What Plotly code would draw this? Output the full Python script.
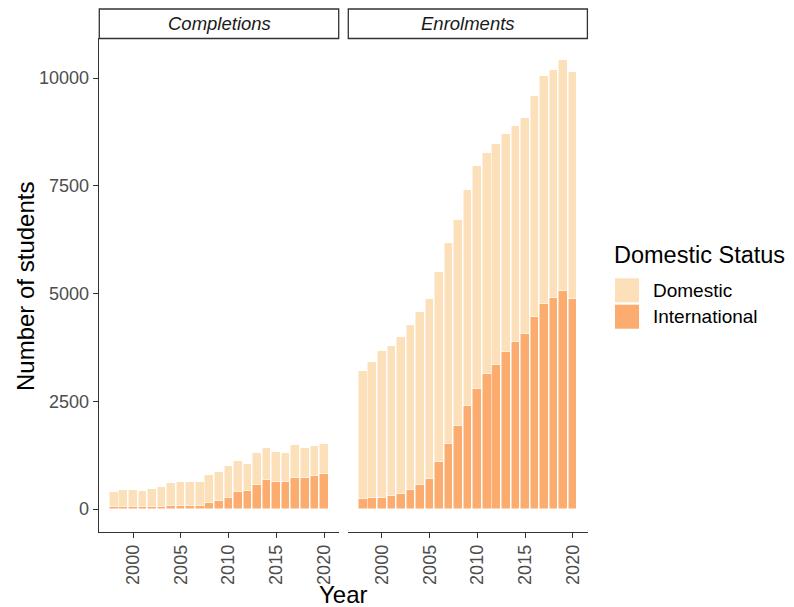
import plotly.graph_objects as go

# ---------------- data ----------------
years = list(range(1998, 2021))

completions_international = [45, 45, 45, 45, 45, 45, 65, 65, 65, 80, 131, 193, 263,
                             395, 426, 557, 666, 635, 635, 712, 712, 766, 820]
completions_domestic = [342, 396, 396, 373, 419, 474, 539, 562, 562, 547, 658, 674, 735,
                        712, 627, 743, 758, 689, 658, 766, 712, 689, 689]

enrolments_international = [232, 262, 262, 309, 341, 441, 550, 690, 1084, 1509, 1934, 2385,
                            2786, 3128, 3344, 3638, 3878, 4064, 4458, 4753, 4906, 5062, 4883]
enrolments_domestic = [2972, 3159, 3399, 3483, 3660, 3831, 4017, 4186, 4412, 4675, 4784, 5022,
                       5178, 5131, 5124, 5070, 5015, 5015, 5132, 5285, 5288, 5348, 5264]

panel_titles = ["Completions", "Enrolments"]
status_labels = ["Domestic", "International"]
y_tick_vals = [0, 2500, 5000, 7500, 10000]
y_tick_text = ["0", "2500", "5000", "7500", "10000"]
x_tick_vals = [2000, 2005, 2010, 2015, 2020]

# ---------------- style ----------------
W, H = 794, 607
OFF = 8.0  # page body margin offset
COL_DOM = "#FCE0BA"
COL_INT = "#FBAC6E"
FONT = "Liberation Sans, Arial, sans-serif"
TICK_COL = "#4D4D4D"
AXIS_COL = "#333333"


def px(x):
    return (x - OFF) / W


def py(y):
    return 1 - (y - OFF) / H


panel_x = [(98.7, 339.3), (347.7, 588.0)]
panel_top, panel_bottom = 38.0, 531.5

fig = go.Figure()

series = [
    (completions_international, completions_domestic, "x", "y"),
    (enrolments_international, enrolments_domestic, "x2", "y2"),
]
for intl, dom, xa, ya in series:
    fig.add_trace(go.Bar(x=years, y=intl, name=status_labels[1],
                         marker=dict(color=COL_INT, line=dict(color="white", width=0.5)),
                         width=0.9, xaxis=xa, yaxis=ya, showlegend=False))
    fig.add_trace(go.Bar(x=years, y=dom, name=status_labels[0],
                         marker=dict(color=COL_DOM, line=dict(color="white", width=0.5)),
                         width=0.9, xaxis=xa, yaxis=ya, showlegend=False))

yrange = [-520.5, 10930.5]
xrange = [1996.405, 2021.595]

xaxis_common = dict(range=xrange, tickmode="array", tickvals=x_tick_vals,
                    ticktext=[str(v) for v in x_tick_vals], ticks="outside", ticklen=5,
                    tickwidth=1.2, tickcolor=AXIS_COL, showline=True, linecolor=AXIS_COL, linewidth=1.3,
                    showgrid=False, zeroline=False, tickangle=-90,
                    tickfont=dict(family=FONT, size=18, color=TICK_COL))

fig.update_layout(
    width=W, height=H, autosize=False,
    margin=dict(l=0, r=0, t=0, b=0),
    paper_bgcolor="white", plot_bgcolor="white",
    barmode="stack", bargap=0,
    showlegend=False,
    xaxis=dict(domain=[px(panel_x[0][0]), px(panel_x[0][1])], anchor="y", **xaxis_common),
    xaxis2=dict(domain=[px(panel_x[1][0]), px(panel_x[1][1])], anchor="y2", **xaxis_common),
    yaxis=dict(domain=[py(panel_bottom), py(panel_top)], anchor="x", range=yrange, tickmode="array",
               tickvals=y_tick_vals, ticktext=y_tick_text, ticks="outside", ticklen=5, tickwidth=1.2,
               tickcolor=AXIS_COL, showline=True, linecolor=AXIS_COL, linewidth=1.3, showgrid=False,
               zeroline=False, tickfont=dict(family=FONT, size=18, color=TICK_COL)),
    yaxis2=dict(domain=[py(panel_bottom), py(panel_top)], anchor="x2", range=yrange, matches="y",
                showticklabels=False, ticks="", showline=False, showgrid=False, zeroline=False),
)

shapes = []
annotations = []

# facet strips
for (x0, x1), title in zip(panel_x, panel_titles):
    shapes.append(dict(type="rect", xref="paper", yref="paper", x0=px(x0 + 0.6), x1=px(x1 - 0.6),
                       y0=py(38.5), y1=py(9), line=dict(color=AXIS_COL, width=1.3), fillcolor="white"))
    annotations.append(dict(text=title, xref="paper", yref="paper", x=px((x0 + x1) / 2), y=py(24),
                            showarrow=False, xanchor="center", yanchor="middle",
                            font=dict(family=FONT, size=18.5, color="#1A1A1A", style="italic")))

# axis titles
annotations.append(dict(text="Year", xref="paper", yref="paper", x=px(343.4), y=py(594),
                        showarrow=False, xanchor="center", yanchor="middle",
                        font=dict(family=FONT, size=24, color="black")))
annotations.append(dict(text="Number of students", xref="paper", yref="paper", x=px(25), y=py(287),
                        showarrow=False, xanchor="center", yanchor="middle", textangle=-90,
                        font=dict(family=FONT, size=24, color="black")))

# legend (drawn)
annotations.append(dict(text="Domestic Status", xref="paper", yref="paper", x=px(612), y=py(255),
                        showarrow=False, xanchor="left", yanchor="middle",
                        font=dict(family=FONT, size=23.5, color="black")))
legend_items = [(status_labels[0], COL_DOM, 278.3, 302.3), (status_labels[1], COL_INT, 304.7, 328.7)]
for label, col, y0, y1 in legend_items:
    shapes.append(dict(type="rect", xref="paper", yref="paper", x0=px(615), x1=px(639),
                       y0=py(y1), y1=py(y0), line=dict(width=0), fillcolor=col))
    annotations.append(dict(text=label, xref="paper", yref="paper", x=px(651), y=py((y0 + y1) / 2),
                            showarrow=False, xanchor="left", yanchor="middle",
                            font=dict(family=FONT, size=19, color="black")))

fig.update_layout(shapes=shapes, annotations=annotations)

fig.write_html("out.html")
